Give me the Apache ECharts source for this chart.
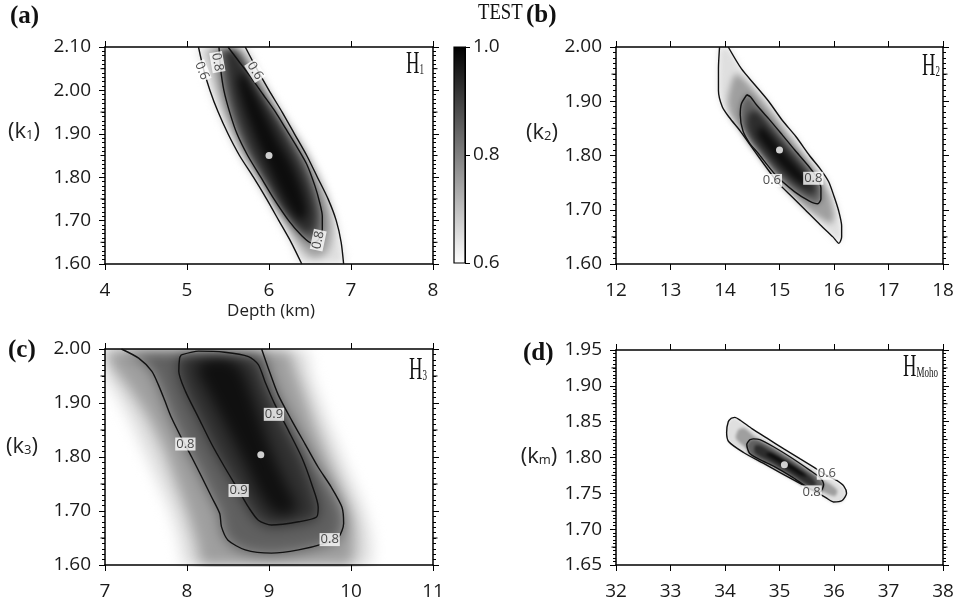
<!DOCTYPE html>
<html><head><meta charset="utf-8">
<script src="https://cdn.jsdelivr.net/npm/echarts@6/dist/echarts.min.js"></script>
<style>
html,body{margin:0;padding:0;background:#fff;}
#wrap{position:relative;width:961px;height:601px;overflow:hidden;}
.layer{position:absolute;left:0;top:0;width:961px;height:601px;}
</style></head><body>
<div id="wrap">
<div id="heat0" class="layer"></div>
<div id="heat1" class="layer"></div>
<div id="heat2" class="layer"></div>
<div id="heat3" class="layer"></div>
<div id="main" class="layer"></div>
</div>
<script>
// ---------------- tick labels ----------------
const a_xTicks = [4, 5, 6, 7, 8];
const a_yTicks = [1.6, 1.7, 1.8, 1.9, 2.0, 2.1];
const b_xTicks = [12, 13, 14, 15, 16, 17, 18];
const b_yTicks = [1.6, 1.7, 1.8, 1.9, 2.0];
const c_xTicks = [7, 8, 9, 10, 11];
const c_yTicks = [1.6, 1.7, 1.8, 1.9, 2.0];
const d_xTicks = [32, 33, 34, 35, 36, 37, 38];
const d_yTicks = [1.65, 1.70, 1.75, 1.80, 1.85, 1.90, 1.95];
const cb_ticks = [0.6, 0.8, 1.0];

// ---------------- panel (a) H1 ----------------
const a_levels = [0.6, 0.7, 0.8, 0.9, 0.96];
const a_c06_left = [[5.14,2.10],[5.20,2.05],[5.28,2.00],[5.38,1.95],[5.50,1.90],[5.64,1.85],[5.81,1.80],[5.97,1.75],[6.12,1.70],[6.27,1.65],[6.40,1.60]];
const a_c06_right = [[5.71,2.10],[5.85,2.05],[6.00,2.00],[6.16,1.95],[6.31,1.90],[6.46,1.85],[6.59,1.80],[6.72,1.75],[6.82,1.70],[6.88,1.65],[6.91,1.60]];
const a_c07 = [[5.26,2.10],[5.31,2.05],[5.37,2.00],[5.45,1.95],[5.56,1.90],[5.69,1.85],[5.86,1.80],[6.02,1.75],[6.18,1.70],[6.34,1.65],[6.52,1.615],[6.70,1.625],[6.77,1.67],[6.76,1.72],[6.68,1.77],[6.56,1.82],[6.42,1.87],[6.28,1.91],[6.13,1.95],[5.97,2.00],[5.81,2.05],[5.63,2.10]];
const a_c08 = [[5.39,2.10],[5.41,2.05],[5.45,2.00],[5.52,1.95],[5.61,1.90],[5.74,1.85],[5.90,1.80],[6.06,1.75],[6.24,1.70],[6.40,1.665],[6.52,1.648],[6.60,1.655],[6.65,1.68],[6.65,1.71],[6.62,1.74],[6.56,1.78],[6.46,1.83],[6.34,1.87],[6.21,1.91],[6.08,1.95],[5.93,1.99],[5.78,2.03],[5.62,2.07],[5.50,2.10]];
const a_c09 = [[5.47,2.10],[5.50,2.03],[5.56,1.97],[5.66,1.91],[5.79,1.85],[5.95,1.79],[6.12,1.73],[6.30,1.69],[6.45,1.67],[6.55,1.68],[6.58,1.72],[6.52,1.77],[6.42,1.82],[6.29,1.87],[6.15,1.92],[6.00,1.97],[5.84,2.02],[5.68,2.07],[5.56,2.10]];
const a_c096 = [[5.62,2.02],[5.72,1.95],[5.84,1.89],[5.98,1.83],[6.13,1.77],[6.28,1.72],[6.40,1.70],[6.46,1.72],[6.40,1.77],[6.27,1.83],[6.12,1.88],[5.96,1.94],[5.80,2.00],[5.68,2.04]];
const a_best = [6.0, 1.85];
const a_labels = [[5.18,2.045,'0.6'],[5.37,2.065,'0.8'],[5.83,2.045,'0.6'],[6.60,1.655,'0.8']];

// ---------------- panel (b) H2 ----------------
const b_levels = [0.6, 0.7, 0.8, 0.9, 0.96];
const b_c06 = [[13.90,2.00],[13.88,1.96],[13.88,1.92],[13.95,1.89],[14.08,1.87],[14.28,1.845],[14.60,1.80],[14.97,1.75],[15.22,1.725],[15.47,1.70],[15.75,1.672],[15.98,1.65],[16.09,1.638],[16.14,1.65],[16.14,1.67],[16.08,1.70],[16.00,1.725],[15.90,1.752],[15.75,1.775],[15.55,1.80],[15.30,1.835],[15.05,1.865],[14.80,1.90],[14.55,1.93],[14.30,1.96],[14.06,2.00]];
const b_c07 = [[14.12,1.935],[14.05,1.90],[14.12,1.87],[14.38,1.835],[14.75,1.785],[15.10,1.74],[15.45,1.705],[15.75,1.685],[15.95,1.675],[16.00,1.69],[15.93,1.725],[15.80,1.75],[15.60,1.78],[15.38,1.81],[15.15,1.84],[14.90,1.875],[14.62,1.91],[14.35,1.94],[14.20,1.95]];
const b_c08 = [[14.40,1.912],[14.30,1.895],[14.28,1.875],[14.33,1.845],[14.45,1.823],[14.60,1.805],[14.92,1.765],[15.28,1.733],[15.55,1.716],[15.70,1.711],[15.76,1.72],[15.76,1.74],[15.68,1.76],[15.52,1.782],[15.28,1.81],[15.05,1.838],[14.80,1.868],[14.58,1.893],[14.47,1.908],[14.40,1.912]];
const b_c09 = [[14.45,1.88],[14.40,1.86],[14.47,1.835],[14.65,1.81],[14.95,1.775],[15.28,1.745],[15.55,1.728],[15.65,1.73],[15.66,1.745],[15.55,1.765],[15.35,1.79],[15.10,1.82],[14.85,1.85],[14.60,1.88]];
const b_c096 = [[14.62,1.85],[14.62,1.835],[14.80,1.81],[15.05,1.78],[15.30,1.755],[15.48,1.745],[15.50,1.755],[15.35,1.775],[15.12,1.80],[14.88,1.83],[14.70,1.85]];
const b_best = [15.0, 1.81];
const b_labels = [[14.86,1.754,'0.6'],[15.62,1.758,'0.8']];

// ---------------- panel (c) H3 ----------------
const c_levels = [0.6, 0.7, 0.8, 0.9, 0.95];
const c_c06 = [[7.0,2.0],[7.0,1.95],[7.12,1.92],[7.3,1.87],[7.45,1.82],[7.6,1.77],[7.8,1.70],[7.9,1.65],[8.0,1.60],[10.2,1.60],[10.25,1.65],[10.15,1.71],[9.98,1.77],[9.82,1.83],[9.66,1.89],[9.52,1.95],[9.42,2.0]];
const c_c07 = [[7.0,2.0],[7.0,1.985],[7.28,1.93],[7.5,1.88],[7.7,1.82],[7.85,1.76],[8.0,1.70],[8.12,1.64],[8.2,1.60],[9.98,1.60],[10.05,1.64],[10.02,1.69],[9.88,1.745],[9.72,1.80],[9.56,1.86],[9.42,1.92],[9.3,1.97],[9.22,2.0]];
const c_c08 = [[7.20,2.00],[7.41,1.983],[7.57,1.959],[7.65,1.934],[7.73,1.904],[7.81,1.873],[7.93,1.836],[8.06,1.799],[8.18,1.763],[8.30,1.726],[8.40,1.695],[8.42,1.671],[8.50,1.646],[8.71,1.628],[9.03,1.622],[9.36,1.628],[9.68,1.640],[9.85,1.652],[9.91,1.677],[9.89,1.707],[9.76,1.744],[9.60,1.781],[9.44,1.824],[9.28,1.867],[9.11,1.916],[8.99,1.965],[8.91,2.00]];
const c_c09 = [[7.93,1.989],[8.14,1.996],[8.46,1.994],[8.75,1.986],[8.87,1.971],[8.95,1.940],[9.07,1.898],[9.24,1.848],[9.40,1.799],[9.52,1.750],[9.60,1.707],[9.58,1.689],[9.36,1.680],[9.03,1.674],[8.87,1.683],[8.75,1.707],[8.63,1.738],[8.46,1.781],[8.30,1.824],[8.14,1.873],[7.98,1.922],[7.90,1.959],[7.91,1.983],[7.93,1.989]];
const c_c095 = [[8.15,1.975],[8.45,1.985],[8.65,1.965],[8.78,1.92],[8.92,1.86],[9.07,1.80],[9.22,1.75],[9.34,1.71],[9.25,1.695],[9.05,1.70],[8.88,1.735],[8.72,1.785],[8.55,1.835],[8.38,1.885],[8.22,1.93],[8.12,1.96]];
const c_best = [8.9, 1.804];
const c_labels = [[9.06,1.879,'0.9'],[7.98,1.824,'0.8'],[8.63,1.738,'0.9'],[9.74,1.647,'0.8']];

// ---------------- panel (d) HMoho ----------------
const d_levels = [0.6, 0.7, 0.8, 0.9, 0.96];
const d_c06 = [[34.12,1.855],[34.06,1.85],[34.03,1.835],[34.07,1.822],[34.34,1.807],[34.70,1.792],[35.01,1.779],[35.35,1.765],[35.62,1.754],[35.85,1.744],[35.99,1.738],[36.15,1.74],[36.23,1.75],[36.18,1.76],[36.05,1.768],[35.87,1.775],[35.62,1.787],[35.38,1.798],[35.08,1.812],[34.77,1.827],[34.50,1.84],[34.28,1.852],[34.18,1.856],[34.12,1.855]];
const d_c07 = [[34.25,1.84],[34.20,1.828],[34.40,1.814],[34.80,1.797],[35.20,1.78],[35.55,1.764],[35.85,1.752],[36.02,1.748],[36.06,1.756],[35.92,1.765],[35.62,1.778],[35.28,1.794],[34.90,1.812],[34.55,1.83],[34.35,1.842]];
const d_c08 = [[34.46,1.825],[34.40,1.818],[34.45,1.806],[34.64,1.797],[34.89,1.788],[35.25,1.772],[35.52,1.758],[35.74,1.752],[35.81,1.762],[35.74,1.772],[35.56,1.782],[35.19,1.801],[34.89,1.815],[34.64,1.825],[34.52,1.826],[34.46,1.825]];
const d_c09 = [[34.55,1.818],[34.55,1.808],[34.85,1.795],[35.25,1.777],[35.58,1.762],[35.68,1.765],[35.55,1.776],[35.22,1.792],[34.88,1.808],[34.65,1.818]];
const d_c096 = [[34.75,1.806],[35.05,1.792],[35.40,1.776],[35.50,1.775],[35.40,1.783],[35.10,1.798],[34.85,1.808]];
const d_best = [35.09, 1.79];
const d_labels = [[35.87,1.778,'0.6'],[35.59,1.752,'0.8']];

// ---------------- layout / style ----------------
const GRIDS = [
  {left:105, top:47, width:328, height:217},
  {left:616, top:47, width:327, height:217},
  {left:105, top:349, width:328, height:218},
  {left:616, top:350, width:327, height:217}
];
const CB_GRID = {left:454, top:47, width:11, height:216};
const P = [
  {xt:a_xTicks, yt:a_yTicks, levels:a_levels, polys:[a_c06_left.concat(a_c06_right.slice().reverse()), a_c07, a_c08, a_c09, a_c096], lines:[a_c06_left, a_c06_right, a_c08], best:a_best, labs:a_labels, rot:[-68,-80,-58,78], blur:4},
  {xt:b_xTicks, yt:b_yTicks, levels:b_levels, polys:[b_c06, b_c07, b_c08, b_c09, b_c096], lines:[b_c06, b_c08], best:b_best, labs:b_labels, rot:[0,0], blur:3},
  {xt:c_xTicks, yt:c_yTicks, levels:c_levels, polys:[c_c06, c_c07, c_c08, c_c09, c_c095], lines:[c_c08, c_c09], best:c_best, labs:c_labels, rot:[0,0,0,0], blur:7},
  {xt:d_xTicks, yt:d_yTicks, levels:d_levels, polys:[d_c06, d_c07, d_c08, d_c09, d_c096], lines:[d_c06, d_c08], best:d_best, labs:d_labels, rot:[0,0], blur:1.5}
];
const R = v => Math.round(v * 100000) / 100000;
const cbMin = cb_ticks[0], cbMax = cb_ticks[cb_ticks.length - 1];
function grayOf(v){
  const g = Math.max(0, Math.min(255, Math.round(255 * (1 - (v - cbMin) / (cbMax - cbMin)))));
  return 'rgb(' + g + ',' + g + ',' + g + ')';
}

// ---------------- heat layers (filled contour bands) ----------------
P.forEach((p, i) => {
  const g = GRIDS[i];
  const el = document.getElementById('heat' + i);
  el.style.filter = 'blur(' + p.blur + 'px)';
  el.style.clipPath = 'inset(' + g.top + 'px ' + (961 - g.left - g.width) + 'px ' + (601 - g.top - g.height) + 'px ' + g.left + 'px)';
  const ch = echarts.init(el, null, {renderer:'canvas'});
  ch.setOption({
    animation:false, backgroundColor:'transparent',
    grid:[Object.assign({}, g)],
    xAxis:[{type:'value', min:p.xt[0], max:p.xt[p.xt.length-1], show:false}],
    yAxis:[{type:'value', min:p.yt[0], max:p.yt[p.yt.length-1], show:false}],
    series:[{
      type:'custom', clip:true, silent:true,
      encode:{x:0, y:1},
      data:p.polys.map((_, k) => [p.xt[0], p.yt[0], k]),
      renderItem:(params, api) => {
        const k = api.value(2);
        const hi = k + 1 < p.levels.length ? p.levels[k+1] : cbMax;
        const pts = p.polys[k].map(d => api.coord(d));
        return {type:'polygon', shape:{points:pts, smooth:0.25}, style:{fill:grayOf((p.levels[k] + hi) / 2), stroke:null}};
      }
    }]
  });
});

// ---------------- main chart ----------------
const FONT = 'Open Sans';
const xAxes = [], yAxes = [], series = [];
P.forEach((p, i) => {
  ['bottom', 'top'].forEach(pos => {
    xAxes.push({type:'value', gridIndex:i, position:pos, min:p.xt[0], max:p.xt[p.xt.length-1], interval:R(p.xt[1]-p.xt[0]),
      axisLine:{show:true, onZero:false, lineStyle:{color:'#000', width:1.5}},
      axisTick:{show:true, inside:false, length:6, lineStyle:{color:'#000', width:1}},
      axisLabel:{show:pos === 'bottom', fontFamily:FONT, fontSize:19, color:'#1a1a1a', margin:17, showMinLabel:true, showMaxLabel:true},
      splitLine:{show:false}});
  });
  ['left', 'right'].forEach(pos => {
    yAxes.push({type:'value', gridIndex:i, position:pos, min:p.yt[0], max:p.yt[p.yt.length-1], interval:R(p.yt[1]-p.yt[0]),
      axisLine:{show:true, onZero:false, lineStyle:{color:'#000', width:1.5}},
      axisTick:{show:true, inside:false, length:6, lineStyle:{color:'#000', width:1}},
      minorTick:{show:true, splitNumber:10, length:3, lineStyle:{color:'#000', width:1}},
      axisLabel:{show:pos === 'left', fontFamily:FONT, fontSize:19, color:'#1a1a1a', margin:14, formatter:v => v.toFixed(2), showMinLabel:true, showMaxLabel:true},
      splitLine:{show:false}, minorSplitLine:{show:false}});
  });
  // mid-step frame ticks (half of the major step), generated from the axis range
  const yMin = p.yt[0], yMax = p.yt[p.yt.length-1], half = (p.yt[1]-p.yt[0]) / 2;
  const nT = Math.round((yMax - yMin) / half);
  const tickVals = [];
  for (let k = 1; k < nT; k += 2) tickVals.push([p.xt[0], R(yMin + k * half)]);
  series.push({type:'custom', xAxisIndex:2*i, yAxisIndex:2*i, silent:true, clip:false, z:2, encode:{x:0, y:1}, data:tickVals,
    renderItem:(params, api) => {
      const yv = api.value(1);
      const L = api.coord([p.xt[0], yv]), Rt = api.coord([p.xt[p.xt.length-1], yv]);
      const st = {stroke:'#000', lineWidth:1};
      return {type:'group', children:[
        {type:'line', shape:{x1:L[0], y1:L[1], x2:L[0] - 4.5, y2:L[1]}, style:st},
        {type:'line', shape:{x1:Rt[0], y1:Rt[1], x2:Rt[0] + 4.5, y2:Rt[1]}, style:st}
      ]};
    }});
  p.lines.forEach(line => {
    series.push({type:'line', xAxisIndex:2*i, yAxisIndex:2*i, data:line, symbol:'none', smooth:0.25, silent:true,
      lineStyle:{color:'#111', width:1.4}, clip:true, z:3});
  });
  series.push({type:'scatter', xAxisIndex:2*i, yAxisIndex:2*i, silent:true, z:5,
    data:p.labs.map((l, k) => ({value:[l[0], l[1]], name:l[2], label:{rotate:p.rot[k]}})),
    symbolSize:0,
    label:{show:true, position:'inside', formatter:'{b}', fontFamily:FONT, fontSize:13, color:'#222', backgroundColor:'#fff', padding:[0,1]}});
  series.push({type:'scatter', xAxisIndex:2*i, yAxisIndex:2*i, silent:true, z:6, data:[p.best], symbol:'circle', symbolSize:7,
    itemStyle:{color:'#fff', borderWidth:0}});
});
// colour bar axes (index 8)
xAxes.push({type:'value', gridIndex:4, min:0, max:1, show:false});
yAxes.push({type:'value', gridIndex:4, position:'right', min:cbMin, max:cbMax, interval:R(cb_ticks[1]-cb_ticks[0]),
  axisLine:{show:true, onZero:false, lineStyle:{color:'#000', width:1}}, axisTick:{show:true, inside:false, length:5, lineStyle:{color:'#000', width:1}},
  axisLabel:{fontFamily:FONT, fontSize:19, color:'#1a1a1a', margin:8, formatter:v => v.toFixed(1), showMinLabel:true, showMaxLabel:true},
  splitLine:{show:false}});
series.push({type:'custom', xAxisIndex:8, yAxisIndex:8, silent:true, clip:false, z:1, encode:{x:0, y:1}, data:[[0, cbMin]],
  renderItem:(params, api) => {
    const a = api.coord([0, cbMax]), b = api.coord([1, cbMin]);
    return {type:'rect', shape:{x:a[0], y:a[1], width:b[0]-a[0], height:b[1]-a[1]},
      style:{fill:new echarts.graphic.LinearGradient(0, 0, 0, 1, [{offset:0, color:grayOf(cbMax)}, {offset:1, color:grayOf(cbMin)}]), stroke:'#000', lineWidth:1.2}};
  }});

const serif = 'Liberation Serif';
function yname(x, y, sub){
  return {type:'text', x:x, y:y, silent:true, style:{text:'{n|(k}{s|' + sub + '}{n|)}', align:'center', verticalAlign:'middle', fill:'#222',
    rich:{n:{fontFamily:FONT, fontSize:22, fill:'#222'}, s:{fontFamily:FONT, fontSize:13, fill:'#222', verticalAlign:'bottom', padding:[0,0,1,0]}}}};
}
function hname(x, y, sub){
  return {type:'text', x:x, y:y, scaleX:0.6, silent:true, style:{text:'{h|H}{s|' + sub + '}', align:'right', verticalAlign:'middle', fill:'#111',
    rich:{h:{fontFamily:serif, fontSize:31, fill:'#111'}, s:{fontFamily:serif, fontSize:15, fill:'#111', verticalAlign:'bottom', padding:[0,0,3,0]}}}};
}
function plabel(x, y, t){
  return {type:'text', x:x, y:y, silent:true, style:{text:t, fontFamily:serif, fontWeight:'bold', fontSize:25, fill:'#111', align:'left', verticalAlign:'middle'}};
}
const main = echarts.init(document.getElementById('main'), null, {renderer:'canvas'});
main.setOption({
  animation:false, backgroundColor:'transparent',
  grid:GRIDS.map(g => Object.assign({}, g)).concat([Object.assign({}, CB_GRID)]),
  xAxis:xAxes, yAxis:yAxes, series:series,
  graphic:[
    {type:'text', x:478, y:13, scaleX:0.78, silent:true, style:{text:'TEST', fontFamily:serif, fontSize:24, fill:'#111', align:'left', verticalAlign:'middle'}},
    plabel(10, 17, '(a)'), plabel(526, 16, '(b)'), plabel(8, 351, '(c)'), plabel(523, 354, '(d)'),
    yname(24, 132, '1'), yname(542, 133, '2'), yname(22, 447, '3'), yname(539, 457, 'm'),
    hname(424, 65, '1'), hname(940, 67, '2'), hname(427, 371, '3'), hname(938, 368, 'Moho'),
    {type:'text', x:271, y:311, silent:true, style:{text:'Depth (km)', fontFamily:FONT, fontSize:17, fill:'#222', align:'center', verticalAlign:'middle'}}
  ]
});
</script>
</body></html>
